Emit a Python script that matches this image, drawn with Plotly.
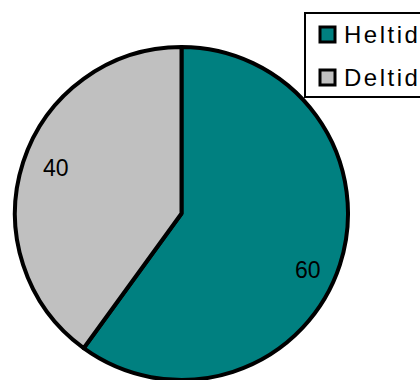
import math
import plotly.graph_objects as go

labels = ["Heltid", "Deltid"]
values = [60, 40]
colors = ["#008080", "#C0C0C0"]

W, H = 420, 380
FONT = "Liberation Sans, Arial, sans-serif"

# pie geometry in pixels
x0, x1 = 14, 349
ytop, ybot = 47, 380
cx, cy = (x0 + x1) / 2, (ytop + ybot) / 2
R = min(x1 - x0, ybot - ytop) / 2

fig = go.Figure(go.Pie(
    labels=labels, values=values, sort=False, direction="clockwise", rotation=0,
    marker=dict(colors=colors, line=dict(color="black", width=4)),
    textinfo="none", hoverinfo="label+value", showlegend=False,
    domain=dict(x=[x0 / W, x1 / W], y=[1 - ybot / H, 1 - ytop / H]),
))

def px(x):
    return x / W

def py(y):
    return 1 - y / H

# value labels placed along each slice's mid angle (style offsets)
label_r = [0.83, 0.80]
label_dang = [6.0, 2.0]
total = sum(values)
cum = 0
annotations = []
for lab, v, lr, da in zip(labels, values, label_r, label_dang):
    mid = (cum + v / 2) / total * 2 * math.pi + math.radians(da)
    cum += v
    r = lr * R
    lx = cx + r * math.sin(mid)
    ly = cy - r * math.cos(mid)
    annotations.append(dict(x=px(lx), y=py(ly), xref="paper", yref="paper",
                            xanchor="center", yanchor="middle",
                            text=str(v), showarrow=False,
                            font=dict(family=FONT, size=23, color="black")))

# manual legend
shapes = [dict(type="rect", xref="paper", yref="paper",
               x0=px(305), x1=px(430), y0=py(97), y1=py(13),
               line=dict(color="black", width=2), fillcolor="white")]
item_y = [34.5, 77.5]
for lab, col, iy in zip(labels, colors, item_y):
    shapes.append(dict(type="rect", xref="paper", yref="paper",
                       x0=px(320), x1=px(335), y0=py(iy + 7.5), y1=py(iy - 7.5),
                       line=dict(color="black", width=3), fillcolor=col))
    annotations.append(dict(x=px(342), y=py(iy), xref="paper", yref="paper",
                            xanchor="left", yanchor="middle",
                            text='<span style="letter-spacing:2.5px">%s</span>' % lab,
                            showarrow=False,
                            font=dict(family=FONT, size=24, color="black")))

fig.update_layout(width=W, height=H, margin=dict(l=0, r=0, t=0, b=0),
                  paper_bgcolor="white", plot_bgcolor="white",
                  shapes=shapes, annotations=annotations)
fig.write_html("out.html")
